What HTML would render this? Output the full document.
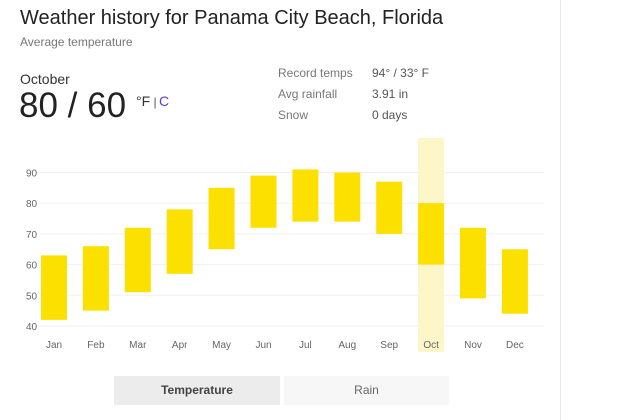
<!DOCTYPE html>
<html><head><meta charset="utf-8">
<style>
body{margin:0;width:624px;height:420px;background:#fff;font-family:"Liberation Sans",sans-serif;position:relative;overflow:hidden}
.a{position:absolute;white-space:nowrap}
</style></head><body>
<div class="a" style="left:560px;top:0;width:1px;height:420px;background:#e8e8e8"></div>
<div class="a" style="left:20px;top:7px;font-size:20px;color:#222">Weather history for Panama City Beach, Florida</div>
<div class="a" style="left:20px;top:35px;font-size:12px;color:#777">Average temperature</div>
<div class="a" style="left:20px;top:71px;font-size:14px;color:#333">October</div>
<div class="a" style="left:19px;top:86px;font-size:35px;color:#222">80 / 60</div>
<div class="a" style="left:136px;top:93px;font-size:14px;color:#333">°F<span style="color:#555;font-size:12px"> | </span></div>
<div class="a" style="left:159px;top:93px;font-size:14px;color:#5a3fbf">C</div>
<div class="a" style="left:278px;top:66px;font-size:12px;color:#777">Record temps</div>
<div class="a" style="left:372px;top:66px;font-size:12px;color:#555">94° / 33° F</div>
<div class="a" style="left:278px;top:87px;font-size:12px;color:#777">Avg rainfall</div>
<div class="a" style="left:372px;top:87px;font-size:12px;color:#555">3.91 in</div>
<div class="a" style="left:278px;top:108px;font-size:12px;color:#777">Snow</div>
<div class="a" style="left:372px;top:108px;font-size:12px;color:#555">0 days</div>
<svg class="a" style="left:0;top:0" width="624" height="420" id="chart"></svg>
<div class="a" style="left:114px;top:376px;width:166px;height:29px;background:#ececec;font-size:12px;font-weight:bold;color:#444;text-align:center;line-height:29px">Temperature</div>
<div class="a" style="left:284px;top:376px;width:165px;height:29px;background:#f7f7f7;font-size:12px;color:#666;text-align:center;line-height:29px">Rain</div>
<script>
const months=["Jan","Feb","Mar","Apr","May","Jun","Jul","Aug","Sep","Oct","Nov","Dec"];
const lows=[42,45,51,57,65,72,74,74,70,60,49,44];
const highs=[63,66,72,78,85,89,91,90,87,80,72,65];
const ticks=[40,50,60,70,80,90];
const selectedIndex=9;
const svg=document.getElementById('chart');
const NS='http://www.w3.org/2000/svg';
const y=v=>326-(v-40)*3.07;
const x=i=>54+i*41.9;
function mk(t,a){const e=document.createElementNS(NS,t);for(const k in a)e.setAttribute(k,a[k]);svg.appendChild(e);return e;}
ticks.forEach(t=>{
  const l=mk('line',{x1:40,x2:544,y1:y(t),y2:y(t),stroke:'#f0f0f0'});
  
  
  const tx=mk('text',{x:26,y:y(t)+4,'font-size':10,fill:'#666','font-family':'Liberation Sans'});
  tx.textContent=t;
  
  
});
const h=mk('rect',{x:x(selectedIndex)-13,y:138,width:26,height:214,fill:'#fdf6c8'});


months.forEach((m,i)=>{
  const r=mk('rect',{x:x(i)-13,y:y(highs[i]),width:26,height:y(lows[i])-y(highs[i]),fill:'#fbe000'});
  
  
  const t=mk('text',{x:x(i),y:348,'font-size':10,fill:'#666','text-anchor':'middle','font-family':'Liberation Sans'});
  t.textContent=m;
  
  
});
</script>
</body></html>
